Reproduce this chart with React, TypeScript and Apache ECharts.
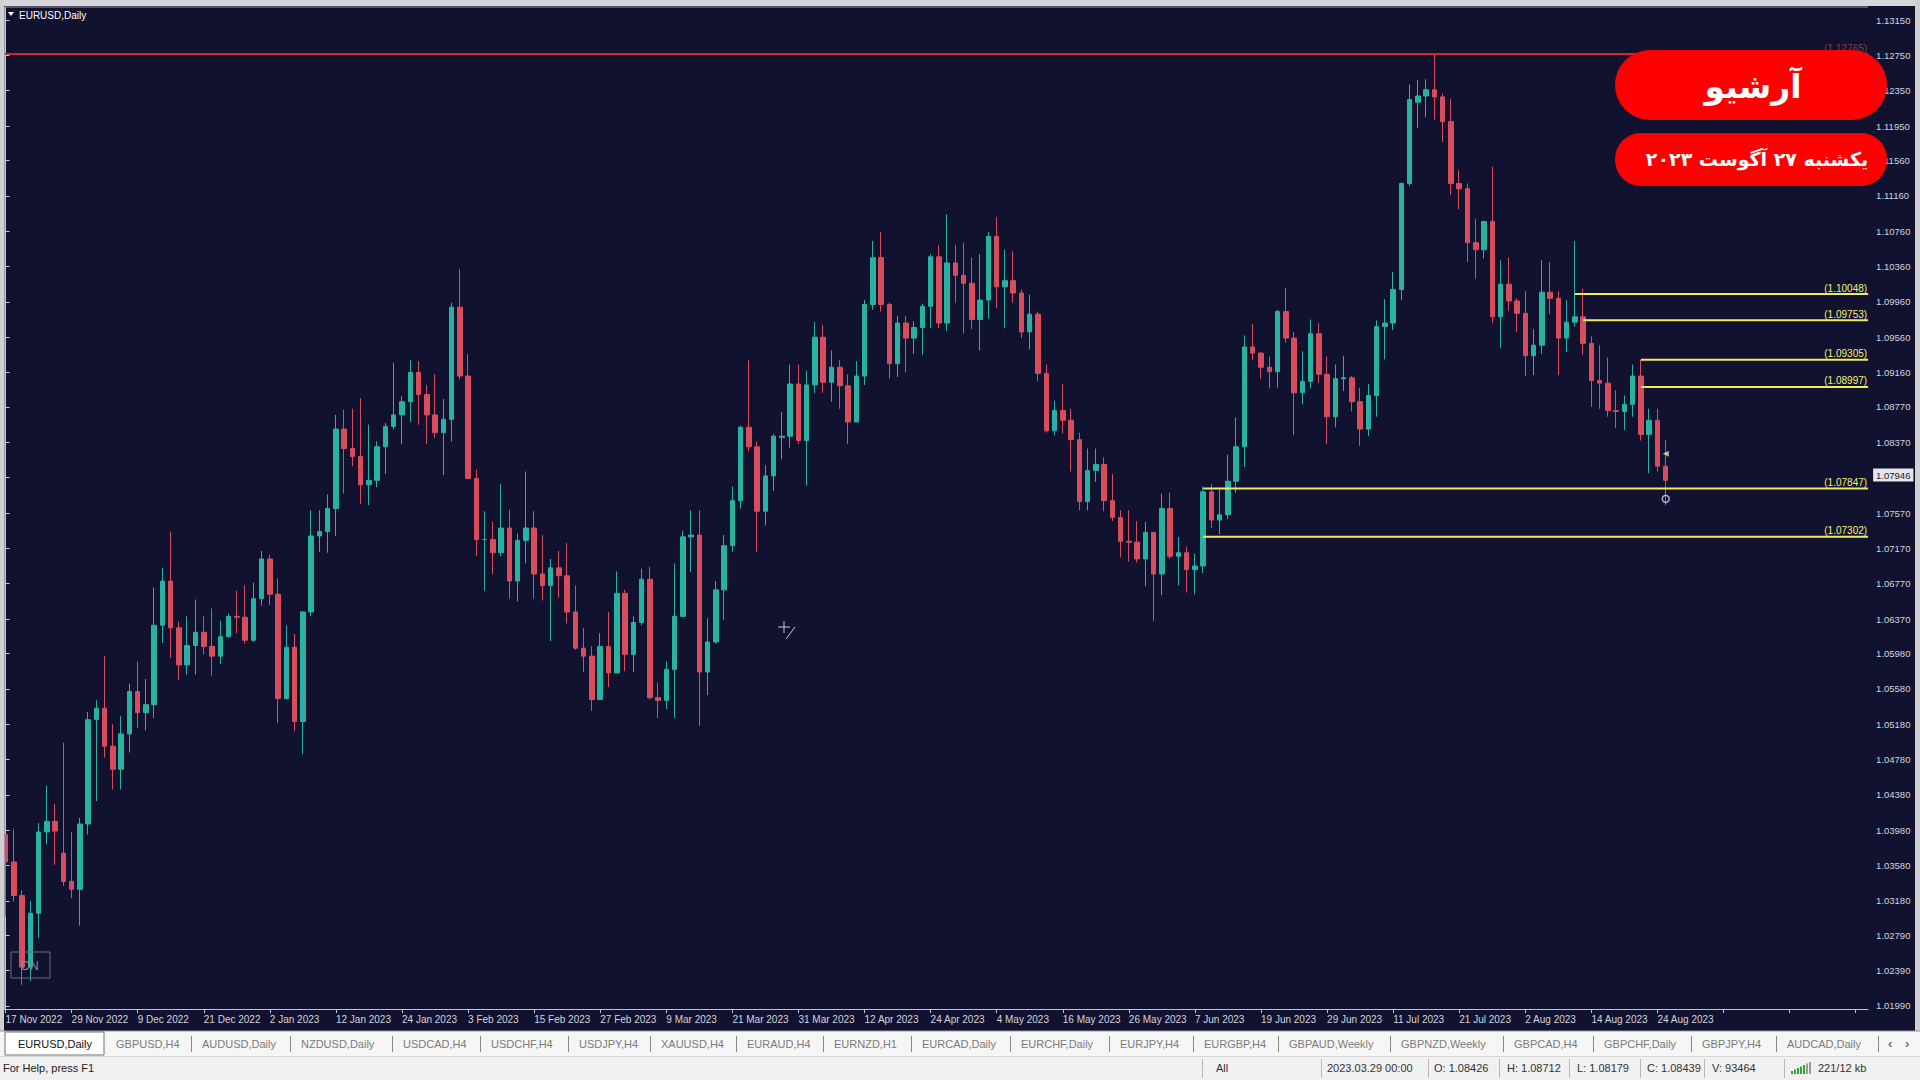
import React, { useEffect, useRef } from "react";
import * as echarts from "echarts";

// ---------- DATA ----------
// Trading days on the chart, grouped by month
const MONTH_DAYS: [string, number[]][] = [
  ["Nov 2022", [17, 18, 21, 22, 23, 24, 25, 28, 29, 30]],
  ["Dec 2022", [1, 2, 5, 6, 7, 8, 9, 12, 13, 14, 15, 16, 19, 20, 21, 22, 23, 26, 27, 28, 29, 30]],
  ["Jan 2023", [2, 3, 4, 5, 6, 9, 10, 11, 12, 13, 16, 17, 18, 19, 20, 23, 24, 25, 26, 27, 30, 31]],
  ["Feb 2023", [1, 2, 3, 6, 7, 8, 9, 10, 13, 14, 15, 16, 17, 20, 21, 22, 23, 24, 27, 28]],
  ["Mar 2023", [1, 2, 3, 6, 7, 8, 9, 10, 13, 14, 15, 16, 17, 20, 21, 22, 23, 24, 27, 28, 29, 30, 31]],
  ["Apr 2023", [3, 4, 5, 6, 7, 10, 11, 12, 13, 14, 17, 18, 19, 20, 21, 24, 25, 26, 27, 28]],
  ["May 2023", [1, 2, 3, 4, 5, 8, 9, 10, 11, 12, 15, 16, 17, 18, 19, 22, 23, 24, 25, 26, 29, 30, 31]],
  ["Jun 2023", [1, 2, 5, 6, 7, 8, 9, 12, 13, 14, 15, 16, 19, 20, 21, 22, 23, 26, 27, 28, 29, 30]],
  ["Jul 2023", [3, 4, 5, 6, 7, 10, 11, 12, 13, 14, 17, 18, 19, 20, 21, 24, 25, 26, 27, 28, 31]],
  ["Aug 2023", [1, 2, 3, 4, 7, 8, 9, 10, 11, 14, 15, 16, 17, 18, 21, 22, 23, 24, 25]],
];
const FUTURE_SLOTS = 24; // empty space right of the last bar

// rows: [open, close, low, high]
const OHLC_NOV22 = [
  [1.0393, 1.0362, 1.0300, 1.0393], [1.0362, 1.0324, 1.0317, 1.0399], [1.0324, 1.0243, 1.0223, 1.0330],
  [1.0243, 1.0304, 1.0227, 1.0318], [1.0304, 1.0396, 1.0276, 1.0406], [1.0396, 1.0408, 1.0382, 1.0448],
  [1.0408, 1.0397, 1.0359, 1.0428], [1.0372, 1.0340, 1.0335, 1.0497], [1.0340, 1.0331, 1.0321, 1.0396],
  [1.0331, 1.0405, 1.0290, 1.0412],
];
const OHLC_DEC22 = [
  [1.0405, 1.0523, 1.0393, 1.0532], [1.0523, 1.0536, 1.0431, 1.0545], [1.0536, 1.0493, 1.0480, 1.0595],
  [1.0493, 1.0467, 1.0444, 1.0518], [1.0467, 1.0507, 1.0444, 1.0527], [1.0507, 1.0555, 1.0486, 1.0564],
  [1.0555, 1.0531, 1.0514, 1.0589], [1.0531, 1.0540, 1.0511, 1.0569], [1.0540, 1.0630, 1.0525, 1.0673],
  [1.0630, 1.0680, 1.0610, 1.0695], [1.0680, 1.0627, 1.0593, 1.0736], [1.0627, 1.0585, 1.0568, 1.0634],
  [1.0585, 1.0607, 1.0574, 1.0640], [1.0607, 1.0622, 1.0574, 1.0659], [1.0622, 1.0606, 1.0597, 1.0640],
  [1.0606, 1.0595, 1.0573, 1.0649], [1.0595, 1.0617, 1.0586, 1.0635], [1.0617, 1.0640, 1.0616, 1.0643],
  [1.0640, 1.0639, 1.0621, 1.0669], [1.0639, 1.0613, 1.0609, 1.0675], [1.0613, 1.0660, 1.0611, 1.0678],
  [1.0660, 1.0705, 1.0652, 1.0714],
];
const OHLC_JAN23 = [
  [1.0705, 1.0665, 1.0653, 1.0710], [1.0665, 1.0547, 1.0519, 1.0683], [1.0547, 1.0605, 1.0546, 1.0630],
  [1.0605, 1.0521, 1.0510, 1.0620], [1.0521, 1.0645, 1.0484, 1.0646], [1.0645, 1.0731, 1.0640, 1.0760],
  [1.0731, 1.0736, 1.0713, 1.0760], [1.0736, 1.0762, 1.0712, 1.0778], [1.0762, 1.0852, 1.0731, 1.0868],
  [1.0852, 1.0830, 1.0779, 1.0874], [1.0830, 1.0821, 1.0810, 1.0875], [1.0821, 1.0789, 1.0767, 1.0887],
  [1.0789, 1.0794, 1.0766, 1.0857], [1.0794, 1.0832, 1.0786, 1.0838], [1.0832, 1.0855, 1.0801, 1.0859],
  [1.0855, 1.0868, 1.0852, 1.0927], [1.0868, 1.0883, 1.0835, 1.0889], [1.0883, 1.0916, 1.0860, 1.0930],
  [1.0916, 1.0891, 1.0857, 1.0929], [1.0891, 1.0868, 1.0835, 1.0902], [1.0868, 1.0848, 1.0842, 1.0914],
  [1.0848, 1.0863, 1.0800, 1.0886],
];
const OHLC_FEB23 = [
  [1.0863, 1.0990, 1.0838, 1.0995], [1.0990, 1.0912, 1.0908, 1.1033], [1.0912, 1.0796, 1.0796, 1.0937],
  [1.0796, 1.0727, 1.0708, 1.0806], [1.0727, 1.0727, 1.0669, 1.0759], [1.0727, 1.0712, 1.0688, 1.0747],
  [1.0712, 1.0740, 1.0708, 1.0790], [1.0740, 1.0680, 1.0660, 1.0761], [1.0680, 1.0726, 1.0657, 1.0734],
  [1.0726, 1.0740, 1.0700, 1.0804], [1.0740, 1.0688, 1.0660, 1.0759], [1.0688, 1.0675, 1.0658, 1.0732],
  [1.0675, 1.0695, 1.0612, 1.0705], [1.0695, 1.0686, 1.0661, 1.0714], [1.0686, 1.0645, 1.0632, 1.0723],
  [1.0645, 1.0604, 1.0602, 1.0675], [1.0604, 1.0595, 1.0577, 1.0627], [1.0595, 1.0546, 1.0533, 1.0606],
  [1.0546, 1.0606, 1.0545, 1.0621], [1.0606, 1.0576, 1.0560, 1.0645],
];
const OHLC_MAR23 = [
  [1.0576, 1.0666, 1.0576, 1.0691], [1.0666, 1.0597, 1.0578, 1.0670], [1.0597, 1.0633, 1.0577, 1.0640],
  [1.0633, 1.0682, 1.0630, 1.0694], [1.0682, 1.0548, 1.0546, 1.0696], [1.0548, 1.0545, 1.0525, 1.0565],
  [1.0545, 1.0580, 1.0535, 1.0589], [1.0580, 1.0640, 1.0525, 1.0700], [1.0640, 1.0730, 1.0639, 1.0737],
  [1.0730, 1.0732, 1.0690, 1.0760], [1.0732, 1.0577, 1.0516, 1.0760], [1.0577, 1.0611, 1.0551, 1.0638],
  [1.0611, 1.0670, 1.0609, 1.0680], [1.0670, 1.0720, 1.0636, 1.0732], [1.0720, 1.0771, 1.0713, 1.0787],
  [1.0771, 1.0854, 1.0762, 1.0856], [1.0854, 1.0832, 1.0827, 1.0930], [1.0832, 1.0759, 1.0713, 1.0838],
  [1.0759, 1.0799, 1.0743, 1.0811], [1.0799, 1.0844, 1.0782, 1.0846], [1.08426, 1.08439, 1.08179, 1.08712],
  [1.0844, 1.0903, 1.0831, 1.0925], [1.0903, 1.0839, 1.0835, 1.0925],
];
const OHLC_APR23 = [
  [1.0839, 1.0902, 1.0788, 1.0918], [1.0902, 1.0956, 1.0893, 1.0973], [1.0956, 1.0905, 1.0893, 1.0970],
  [1.0905, 1.0922, 1.0883, 1.0941], [1.0922, 1.0901, 1.0875, 1.0930], [1.0901, 1.0860, 1.0835, 1.0914],
  [1.0860, 1.0912, 1.0860, 1.0929], [1.0912, 1.0993, 1.0902, 1.0998], [1.0993, 1.1046, 1.0987, 1.1065],
  [1.1046, 1.0993, 1.0985, 1.1075], [1.0993, 1.0926, 1.0909, 1.0995], [1.0926, 1.0972, 1.0911, 1.0980],
  [1.0972, 1.0955, 1.0916, 1.0980], [1.0955, 1.0967, 1.0937, 1.0974], [1.0967, 1.0991, 1.0936, 1.0994],
  [1.0991, 1.1047, 1.0966, 1.1050], [1.1047, 1.0972, 1.0966, 1.1060], [1.0972, 1.1040, 1.0963, 1.1095],
  [1.1040, 1.1026, 1.0995, 1.1060], [1.1026, 1.1017, 1.0960, 1.1063],
];
const OHLC_MAY23 = [
  [1.1017, 1.0976, 1.0965, 1.1046], [1.0976, 1.0998, 1.0941, 1.1050], [1.0998, 1.1070, 1.0977, 1.1075],
  [1.1070, 1.1013, 1.0989, 1.1092], [1.1013, 1.1020, 1.0966, 1.1055], [1.1020, 1.1006, 1.0995, 1.1053],
  [1.1006, 1.0962, 1.0955, 1.1010], [1.0962, 1.0982, 1.0942, 1.1004], [1.0982, 1.0915, 1.0906, 1.0985],
  [1.0915, 1.0850, 1.0848, 1.0925], [1.0850, 1.0873, 1.0845, 1.0884], [1.0873, 1.0862, 1.0847, 1.0903],
  [1.0862, 1.0840, 1.0804, 1.0875], [1.0840, 1.0770, 1.0760, 1.0848], [1.0770, 1.0805, 1.0760, 1.0830],
  [1.0805, 1.0812, 1.0792, 1.0830], [1.0812, 1.0771, 1.0759, 1.0820], [1.0771, 1.0752, 1.0748, 1.0801],
  [1.0752, 1.0725, 1.0707, 1.0760], [1.0725, 1.0724, 1.0702, 1.0760], [1.0724, 1.0705, 1.0701, 1.0748],
  [1.0705, 1.0735, 1.0674, 1.0747], [1.0735, 1.0688, 1.0635, 1.0736],
];
const OHLC_JUN23 = [
  [1.0688, 1.0762, 1.0664, 1.0779], [1.0762, 1.0708, 1.0705, 1.0780], [1.0708, 1.0712, 1.0675, 1.0730],
  [1.0712, 1.0693, 1.0667, 1.0719], [1.0693, 1.0697, 1.0665, 1.0711], [1.0697, 1.0781, 1.0689, 1.0787],
  [1.0781, 1.0749, 1.0740, 1.0790], [1.0749, 1.0755, 1.0733, 1.0786], [1.0755, 1.0793, 1.0750, 1.0823],
  [1.0793, 1.0832, 1.0780, 1.0865], [1.0832, 1.0945, 1.0809, 1.0958], [1.0945, 1.0938, 1.0930, 1.0971],
  [1.0938, 1.0922, 1.0909, 1.0939], [1.0922, 1.0917, 1.0898, 1.0934], [1.0917, 1.0985, 1.0899, 1.0987],
  [1.0985, 1.0955, 1.0950, 1.1012], [1.0955, 1.0893, 1.0845, 1.0962], [1.0893, 1.0906, 1.0880, 1.0940],
  [1.0906, 1.0960, 1.0898, 1.0976], [1.0960, 1.0914, 1.0904, 1.0972], [1.0914, 1.0866, 1.0835, 1.0934],
  [1.0866, 1.0909, 1.0854, 1.0925],
];
const OHLC_JUL23 = [
  [1.0909, 1.0910, 1.0895, 1.0935], [1.0910, 1.0883, 1.0872, 1.0912], [1.0883, 1.0852, 1.0833, 1.0899],
  [1.0852, 1.0890, 1.0844, 1.0903], [1.0890, 1.0968, 1.0866, 1.0975], [1.0968, 1.0972, 1.0931, 1.0999],
  [1.0972, 1.1010, 1.0964, 1.1030], [1.1010, 1.1130, 1.0998, 1.1131], [1.1130, 1.1225, 1.1127, 1.1242],
  [1.1222, 1.1229, 1.1193, 1.1247], [1.1229, 1.1236, 1.1205, 1.1248], [1.1236, 1.1228, 1.1202, 1.12765],
  [1.1228, 1.1200, 1.1177, 1.1232], [1.1200, 1.1130, 1.1117, 1.1226], [1.1130, 1.1124, 1.1101, 1.1145],
  [1.1124, 1.1063, 1.1041, 1.1130], [1.1063, 1.1055, 1.1022, 1.1090], [1.1055, 1.1087, 1.1045, 1.1088],
  [1.1087, 1.0979, 1.0972, 1.1149], [1.0979, 1.1016, 1.0944, 1.1043], [1.1016, 1.0997, 1.0986, 1.1046],
];
const OHLC_AUG23 = [
  [1.0997, 1.0983, 1.0962, 1.1000], [1.0983, 1.0935, 1.0912, 1.1008], [1.0935, 1.0947, 1.0913, 1.0965],
  [1.0947, 1.1007, 1.0937, 1.1043], [1.1007, 1.1000, 1.0982, 1.1041], [1.1000, 1.0955, 1.0913, 1.1008],
  [1.0955, 1.0973, 1.0939, 1.0998], [1.0973, 1.0979, 1.0968, 1.1065], [1.0979, 1.0949, 1.0936, 1.1011],
  [1.0949, 1.0907, 1.0877, 1.0957], [1.0907, 1.0904, 1.0875, 1.0947], [1.0904, 1.0873, 1.0866, 1.0933],
  [1.0873, 1.0872, 1.0853, 1.0896], [1.0872, 1.0880, 1.0851, 1.0890], [1.0880, 1.0912, 1.0866, 1.0925],
  [1.0912, 1.0846, 1.0839, 1.09305], [1.0846, 1.0862, 1.0802, 1.0875], [1.0862, 1.0810, 1.0804, 1.0875],
  [1.0810, 1.0794, 1.0766, 1.0840],
];

// Price axis labels as shown on the chart
const TICK_VALUES = [
  1.0199, 1.0239, 1.0279, 1.0318, 1.0358, 1.0398, 1.0438, 1.0478, 1.0518, 1.0558, 1.0598, 1.0637, 1.0677,
  1.0717, 1.0757, 1.0797, 1.0837, 1.0877, 1.0916, 1.0956, 1.0996, 1.1036, 1.1076, 1.1116, 1.1156, 1.1195,
  1.1235, 1.1275, 1.1315,
];

// Horizontal levels (yellow) and the bar where each starts
const LEVEL_VALUES = [1.10048, 1.09753, 1.09305, 1.08997, 1.07847, 1.07302];
const LEVEL_START = [190, 191, 198, 198, 145, 145];
const HIGH_LINE = 1.12765;
const LAST_PRICE = 1.07946;
// small trade markers near the last bar: [barIndex, price]
const MARK_CIRCLE = [[201, 1.0773]];
const MARK_ARROW = [[201, 1.0824]];

const TAB_NAMES = [
  "EURUSD,Daily", "GBPUSD,H4", "AUDUSD,Daily", "NZDUSD,Daily", "USDCAD,H4", "USDCHF,H4", "USDJPY,H4",
  "XAUUSD,H4", "EURAUD,H4", "EURNZD,H1", "EURCAD,Daily", "EURCHF,Daily", "EURJPY,H4", "EURGBP,H4",
  "GBPAUD,Weekly", "GBPNZD,Weekly", "GBPCAD,H4", "GBPCHF,Daily", "GBPJPY,H4", "AUDCAD,Daily",
];
const STATUS_TEXTS = ["All", "2023.03.29 00:00", "O: 1.08426", "H: 1.08712", "L: 1.08179", "C: 1.08439", "V: 93464", "221/12 kb"];
const SYMBOL_TITLE = "EURUSD,Daily";
const BADGE_TITLE = "آرشیو";
const BADGE_DATE = "یکشنبه ۲۷ آگوست ۲۰۲۳";

// ---------- derived ----------
const CATEGORIES = MONTH_DAYS.flatMap(([m, days]) => days.map((d) => `${d} ${m}`));
const X_LABELS = [...CATEGORIES, ...new Array(FUTURE_SLOTS).fill("")];
const CANDLES = [
  ...OHLC_NOV22, ...OHLC_DEC22, ...OHLC_JAN23, ...OHLC_FEB23, ...OHLC_MAR23,
  ...OHLC_APR23, ...OHLC_MAY23, ...OHLC_JUN23, ...OHLC_JUL23, ...OHLC_AUG23,
];

// ---------- layout / style ----------
const TAB_X = [18, 116, 202, 301, 403, 491, 579, 661, 747, 834, 922, 1021, 1120, 1204, 1289, 1401, 1514, 1604, 1702, 1787];
const STATUS_X = [1216, 1327, 1434, 1507, 1577, 1647, 1712, 1818];
const STATUS_SEP_X = [1202, 1321, 1428, 1499, 1569, 1640, 1704, 1784];
const BG = "#11122f";
const BULL = "#27b3a0";
const BEAR = "#d84d5c";
const YELLOW = "#ecec5e";
const AXIS_COLOR = "#c4c4d0";
const FONT = "Liberation Sans, Arial, sans-serif";
const FA_FONT = "DejaVu Sans, Noto Sans, sans-serif";
const HIDDEN_LINE = { color: "rgba(0,0,0,0)", width: 0, opacity: 1 };

const Y_MIN = 1.01956;
const Y_MAX = 1.132973;
const N = X_LABELS.length;

export default function App() {
  const ref = useRef<HTMLDivElement>(null);
  useEffect(() => {
    document.body.style.margin = "0";
    const chart = echarts.init(ref.current!, null, { renderer: "svg" });

    const levelSeries = LEVEL_VALUES.map((v, i) => ({
      type: "line",
      xAxisIndex: 1,
      yAxisIndex: 0,
      data: [[LEVEL_START[i], v], [N - 0.5, v]],
      symbol: "none",
      lineStyle: { color: YELLOW, width: 2 },
      z: 5,
      silent: true,
      markLine: {
        silent: true,
        symbol: ["none", "none"],
        lineStyle: HIDDEN_LINE,
        label: {
          show: true,
          position: "insideEndTop",
          formatter: `(${v.toFixed(5)})`,
          color: "#f2f274",
          opacity: 1,
          fontSize: 10,
          fontFamily: FONT,
          distance: 1,
        },
        data: [[{ coord: [LEVEL_START[i], v] }, { coord: [N - 0.5, v] }]],
      },
    }));

    const graphics: any[] = [
      // window chrome
      { type: "rect", shape: { x: 0, y: 0, width: 1920, height: 6 }, style: { fill: "#d6d6da" }, z: 50 },
      { type: "rect", shape: { x: 0, y: 0, width: 4, height: 1031 }, style: { fill: "#cfcfd4" }, z: 50 },
      { type: "rect", shape: { x: 1915, y: 0, width: 5, height: 1031 }, style: { fill: "#cfcfd4" }, z: 50 },
      { type: "line", shape: { x1: 5, y1: 7, x2: 1868, y2: 7 }, style: { stroke: "#9a9aa8", lineWidth: 1 }, z: 50 },
      { type: "line", shape: { x1: 4.5, y1: 7, x2: 4.5, y2: 1009 }, style: { stroke: "#9a9aa8", lineWidth: 1 }, z: 50 },
      // title
      { type: "polygon", shape: { points: [[8, 12], [14, 12], [11, 16]] }, style: { fill: "#ffffff" }, z: 50 },
      { type: "text", x: 19, y: 15, style: { text: SYMBOL_TITLE, fill: "#ffffff", font: `10px ${FONT}`, verticalAlign: "middle" }, z: 50 },
      // DN box
      { type: "rect", shape: { x: 11, y: 952, width: 39, height: 26 }, style: { fill: "rgba(0,0,0,0)", stroke: "#6c6c7a", lineWidth: 1 }, z: 50 },
      { type: "text", x: 30, y: 966, style: { text: "DN", fill: "#8c8c98", font: `12px ${FONT}`, align: "center", verticalAlign: "middle" }, z: 50 },
      // cursor cross
      { type: "line", shape: { x1: 778, y1: 627, x2: 790, y2: 627 }, style: { stroke: "#c8c8d4", lineWidth: 1 }, z: 50 },
      { type: "line", shape: { x1: 784, y1: 621, x2: 784, y2: 633 }, style: { stroke: "#c8c8d4", lineWidth: 1 }, z: 50 },
      { type: "line", shape: { x1: 786, y1: 639, x2: 795, y2: 627 }, style: { stroke: "#c8c8d4", lineWidth: 1 }, z: 50 },
      // badges
      { type: "rect", shape: { x: 1615, y: 50, width: 272, height: 70, r: 35 }, style: { fill: "#ff0000" }, z: 100 },
      { type: "text", x: 1753, y: 86, style: { text: BADGE_TITLE, fill: "#ffffff", font: `bold 33px ${FA_FONT}`, align: "center", verticalAlign: "middle" }, z: 101 },
      { type: "rect", shape: { x: 1615, y: 133, width: 272, height: 53, r: 26 }, style: { fill: "#ff0000" }, z: 100 },
      { type: "text", x: 1757, y: 159, style: { text: BADGE_DATE, fill: "#ffffff", font: `bold 19px ${FA_FONT}`, align: "center", verticalAlign: "middle" }, z: 101 },
      // tab bar
      { type: "rect", shape: { x: 0, y: 1031, width: 1920, height: 25 }, style: { fill: "#f6f6f6" }, z: 50 },
      { type: "line", shape: { x1: 0, y1: 1031, x2: 1920, y2: 1031 }, style: { stroke: "#9a9a9a", lineWidth: 1 }, z: 51 },
      { type: "rect", shape: { x: 5, y: 1032, width: 99, height: 23 }, style: { fill: "#ffffff", stroke: "#707070", lineWidth: 1 }, z: 51 },
      // status bar
      { type: "rect", shape: { x: 0, y: 1056, width: 1920, height: 24 }, style: { fill: "#f0f0f0" }, z: 50 },
      { type: "line", shape: { x1: 0, y1: 1056.5, x2: 1920, y2: 1056.5 }, style: { stroke: "#d8d8d8", lineWidth: 1 }, z: 51 },
      { type: "text", x: 3, y: 1068, style: { text: "For Help, press F1", fill: "#222", font: `11px ${FONT}`, verticalAlign: "middle" }, z: 52 },
      { type: "text", x: 1888, y: 1043, style: { text: "‹", fill: "#444", font: `13px ${FONT}`, verticalAlign: "middle" }, z: 52 },
      { type: "text", x: 1905, y: 1043, style: { text: "›", fill: "#444", font: `13px ${FONT}`, verticalAlign: "middle" }, z: 52 },
    ];
    TAB_NAMES.forEach((t, i) => {
      graphics.push({
        type: "text", x: TAB_X[i], y: 1044, z: 52,
        style: { text: t, fill: i === 0 ? "#111" : "#7a7a7a", font: `11px ${FONT}`, verticalAlign: "middle" },
      });
      if (i >= 2) {
        graphics.push({ type: "line", z: 52, shape: { x1: TAB_X[i] - 10.5, y1: 1036, x2: TAB_X[i] - 10.5, y2: 1052 }, style: { stroke: "#8a8a8a", lineWidth: 1 } });
      }
    });
    graphics.push({ type: "line", z: 52, shape: { x1: 1878.5, y1: 1036, x2: 1878.5, y2: 1052 }, style: { stroke: "#8a8a8a", lineWidth: 1 } });
    STATUS_TEXTS.forEach((t, i) => {
      graphics.push({ type: "text", x: STATUS_X[i], y: 1068, z: 52, style: { text: t, fill: "#333", font: `11px ${FONT}`, verticalAlign: "middle" } });
      graphics.push({ type: "line", z: 52, shape: { x1: STATUS_SEP_X[i] + 0.5, y1: 1059, x2: STATUS_SEP_X[i] + 0.5, y2: 1078 }, style: { stroke: "#b8b8b8", lineWidth: 1 } });
    });
    for (let k = 0; k < 7; k++) {
      graphics.push({ type: "rect", z: 52, shape: { x: 1791 + k * 3, y: 1074 - (3 + k * 1.5), width: 2, height: 3 + k * 1.5 }, style: { fill: k < 5 ? "#3aa03a" : "#9a9a9a" } });
    }

    chart.setOption({
      animation: false,
      backgroundColor: BG,
      textStyle: { fontFamily: FONT },
      grid: { left: 1.4, right: 51.9, top: 7, bottom: 71, show: false },
      xAxis: [
        {
          type: "category",
          data: X_LABELS,
          boundaryGap: true,
          axisLine: { show: true, lineStyle: { color: AXIS_COLOR, width: 1 } },
          axisTick: { show: true, interval: 7, alignWithLabel: true, length: 4, lineStyle: { color: AXIS_COLOR } },
          axisLabel: { show: true, interval: 7, align: "left", color: "#d4d4de", fontSize: 10, margin: 5, fontFamily: FONT },
          splitLine: { show: false },
        },
        { type: "value", min: -0.5, max: N - 0.5, show: false },
      ],
      yAxis: {
        type: "value",
        position: "right",
        min: Y_MIN,
        max: Y_MAX,
        scale: true,
        axisLine: { show: true, lineStyle: { color: AXIS_COLOR, width: 1 } },
        axisTick: { show: true, customValues: TICK_VALUES, length: 4, lineStyle: { color: AXIS_COLOR } },
        axisLabel: {
          show: true,
          customValues: TICK_VALUES,
          formatter: (v: number) => v.toFixed(5),
          color: "#d4d4de",
          fontSize: 9.5,
          margin: 8,
          fontFamily: FONT,
        },
        splitLine: { show: false },
      },
      series: [
        {
          type: "candlestick",
          xAxisIndex: 0,
          yAxisIndex: 0,
          data: CANDLES,
          barWidth: 5,
          z: 3,
          itemStyle: { color: BULL, color0: BEAR, borderColor: BULL, borderColor0: BEAR, borderWidth: 1 },
          markLine: {
            silent: true,
            symbol: ["none", "none"],
            lineStyle: HIDDEN_LINE,
            label: {
              show: true,
              position: "end",
              distance: 5,
              opacity: 1,
              formatter: LAST_PRICE.toFixed(5),
              backgroundColor: "#e4e4ea",
              color: "#1a1a2a",
              padding: [2, 3, 1, 3],
              fontSize: 9.5,
              fontFamily: FONT,
            },
            data: [{ yAxis: LAST_PRICE }],
          },
        },
        {
          type: "line",
          xAxisIndex: 1,
          yAxisIndex: 0,
          data: [[-0.5, HIGH_LINE], [N - 0.5, HIGH_LINE]],
          symbol: "none",
          lineStyle: { color: "#d42828", width: 2 },
          z: 4,
          silent: true,
          markLine: {
            silent: true,
            symbol: ["none", "none"],
            lineStyle: HIDDEN_LINE,
            label: { show: true, position: "insideEndTop", opacity: 1, formatter: `(${HIGH_LINE.toFixed(5)})`, color: "#8a3a44", fontSize: 10, distance: 1 },
            data: [[{ coord: [-0.5, HIGH_LINE] }, { coord: [N - 0.5, HIGH_LINE] }]],
          },
        },
        ...levelSeries,
        {
          type: "scatter",
          xAxisIndex: 0,
          yAxisIndex: 0,
          data: MARK_CIRCLE,
          symbol: "circle",
          symbolSize: 7,
          z: 6,
          itemStyle: { color: "rgba(0,0,0,0)", borderColor: "#c8d4ff", borderWidth: 1.5 },
        },
        {
          type: "scatter",
          xAxisIndex: 0,
          yAxisIndex: 0,
          data: MARK_ARROW,
          symbol: "triangle",
          symbolRotate: 90,
          symbolSize: 6,
          z: 6,
          itemStyle: { color: "#efe6c4" },
        },
      ],
      graphic: graphics,
    });
    return () => chart.dispose();
  }, []);
  return (
    <div
      ref={ref}
      style={{ width: 1920, height: 1080, position: "fixed", left: 0, top: 0, background: BG }}
    />
  );
}
